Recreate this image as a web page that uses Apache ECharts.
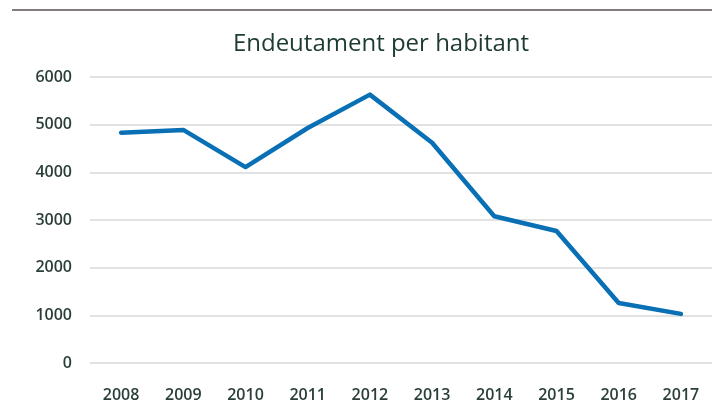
<!DOCTYPE html>
<html>
<head>
<meta charset="utf-8">
<script src="https://cdn.jsdelivr.net/npm/echarts@6/dist/echarts.min.js"></script>
<style>html,body{margin:0;padding:0;background:#fff}#c{width:712px;height:412px}</style>
</head>
<body>
<div id="c"></div>
<script>
var categories = ['2008','2009','2010','2011','2012','2013','2014','2015','2016','2017'];
var values = [4830, 4890, 4110, 4930, 5630, 4620, 3080, 2770, 1260, 1030];
var yTicks = [0, 1000, 2000, 3000, 4000, 5000, 6000];
var titleText = 'Endeutament per habitant';

var chart = echarts.init(document.getElementById('c'), null, {renderer: 'canvas'});
chart.setOption({
  animation: false,
  backgroundColor: '#ffffff',
  title: {
    text: titleText,
    left: 376, top: 27, textAlign: 'center',
    textStyle: {fontFamily: 'Open Sans', fontSize: 24, fontWeight: 'normal', color: '#1d3a33'}
  },
  graphic: [{
    type: 'line', shape: {x1: 12, y1: 10, x2: 712, y2: 10},
    style: {stroke: '#5e4c55', lineWidth: 1.5}
  }],
  grid: {left: 90, top: 77, width: 624, height: 286},
  xAxis: {
    type: 'category', data: categories, boundaryGap: true,
    axisLine: {show: false}, axisTick: {show: false},
    axisLabel: {margin: 24, fontFamily: 'Open Sans', fontSize: 16, fontWeight: 600, color: '#2b3f3a'}
  },
  yAxis: {
    type: 'value', min: yTicks[0], max: yTicks[yTicks.length - 1], interval: 1000,
    axisLine: {show: false}, axisTick: {show: false},
    splitLine: {lineStyle: {color: '#d9d9d9', width: 1.5}},
    axisLabel: {margin: 18, fontFamily: 'Open Sans', fontSize: 16, fontWeight: 600, color: '#2b3f3a',
      formatter: function (v) { return String(v); }}
  },
  series: [{
    type: 'line', data: values, symbol: 'none',
    lineStyle: {color: '#0a70b6', width: 4.5, cap: 'round', join: 'round'}
  }]
});
</script>
</body>
</html>
